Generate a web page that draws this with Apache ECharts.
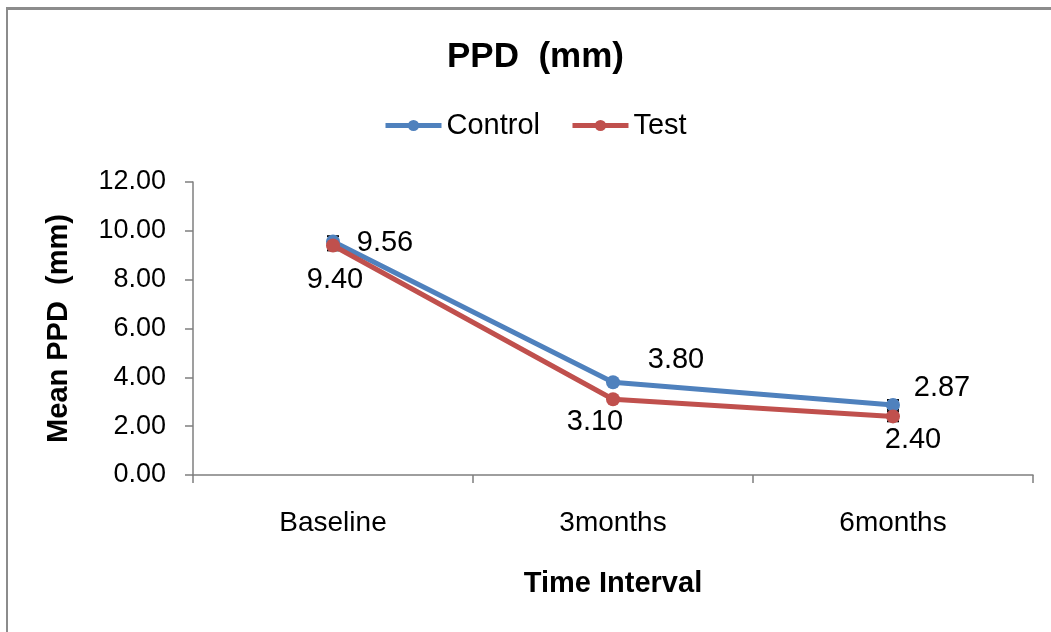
<!DOCTYPE html>
<html>
<head>
  <meta charset="utf-8">
  <title>PPD (mm)</title>
  <script src="https://cdn.jsdelivr.net/npm/echarts@6/dist/echarts.min.js"></script>
  <style>
    html, body { margin: 0; padding: 0; background: #fff; }
    #frame {
      position: absolute; left: 6px; top: 7px; width: 1060px; height: 640px;
      border-left: 2px solid #8c8c8c; border-top: 3px solid #8c8c8c;
    }
    #chart { width: 1051px; height: 632px; }
  </style>
</head>
<body>
  <div id="frame"></div>
  <div id="chart"></div>
  <script>
    // data
    const categories = ['Baseline', '3months', '6months'];
    const control = [9.56, 3.80, 2.87];
    const test = [9.40, 3.10, 2.40];
    // small SD caps visible round some points
    const controlErr = [0.22, 0, 0.2];
    const testErr = [0.2, 0, 0.2];
    const yTicks = [0, 2, 4, 6, 8, 10, 12];

    const font = '"Liberation Sans", Arial, sans-serif';
    const chart = echarts.init(document.getElementById('chart'));

    function errSeries(vals, errs) {
      return {
        type: 'custom',
        silent: true,
        z: 1,
        data: vals.map((v, i) => [i, v - errs[i], v + errs[i], errs[i]]),
        renderItem: (params, api) => {
          if (api.value(3) === 0) return null;
          const lo = api.coord([api.value(0), api.value(1)]);
          const hi = api.coord([api.value(0), api.value(2)]);
          const w = 6;
          const st = { stroke: '#000', lineWidth: 2 };
          return {
            type: 'group',
            children: [
              { type: 'line', shape: { x1: lo[0], y1: lo[1], x2: hi[0], y2: hi[1] }, style: st },
              { type: 'line', shape: { x1: lo[0] - w, y1: lo[1], x2: lo[0] + w, y2: lo[1] }, style: st },
              { type: 'line', shape: { x1: hi[0] - w, y1: hi[1], x2: hi[0] + w, y2: hi[1] }, style: st }
            ]
          };
        }
      };
    }

    const labelBase = { show: true, position: 'inside', color: '#000', fontSize: 29, fontFamily: font, formatter: p => p.value.toFixed(2) };

    chart.setOption({
      animation: false,
      title: {
        text: 'PPD  (mm)',
        left: 442,
        top: 35,
        textStyle: { fontFamily: font, fontSize: 35, fontWeight: 'bold', color: '#000' }
      },
      legend: {
        data: ['Control', 'Test'],
        top: 106,
        left: 378,
        itemWidth: 56,
        itemHeight: 14,
        itemGap: 30,
        lineStyle: { width: 5 },
        textStyle: { fontFamily: font, fontSize: 29, color: '#000' }
      },
      grid: { left: 193, right: 18, top: 182, bottom: 157 },
      xAxis: {
        type: 'category',
        data: categories,
        name: 'Time Interval',
        nameLocation: 'middle',
        nameGap: 94,
        nameTextStyle: { fontFamily: font, fontSize: 29, fontWeight: 'bold', color: '#000' },
        axisLine: { lineStyle: { color: '#7f7f7f', width: 1.5 } },
        axisTick: { show: true, inside: false, length: 8, lineStyle: { color: '#7f7f7f', width: 1.5 } },
        axisLabel: { fontFamily: font, fontSize: 28, color: '#000', margin: 34 },
        splitLine: { show: false }
      },
      yAxis: {
        type: 'value',
        min: yTicks[0],
        max: yTicks[yTicks.length - 1],
        interval: 2,
        name: 'Mean PPD  (mm)',
        nameLocation: 'middle',
        nameGap: 120,
        nameRotate: 90,
        nameTextStyle: { fontFamily: font, fontSize: 29, fontWeight: 'bold', color: '#000' },
        axisLine: { show: true, lineStyle: { color: '#7f7f7f', width: 1.5 } },
        axisTick: { show: true, length: 8, lineStyle: { color: '#7f7f7f', width: 1.5 } },
        axisLabel: { fontFamily: font, fontSize: 27, color: '#000', margin: 27, formatter: v => v.toFixed(2) },
        splitLine: { show: false }
      },
      series: [
        errSeries(control, controlErr),
        errSeries(test, testErr),
        {
          name: 'Control',
          type: 'line',
          z: 3,
          data: control.map((v, i) => ({
            value: v,
            label: { offset: [[52, 1], [63, -22], [49, -17]][i] }
          })),
          symbol: 'circle',
          symbolSize: 14,
          color: '#4f81bd',
          lineStyle: { width: 5, color: '#4f81bd' },
          label: labelBase
        },
        {
          name: 'Test',
          type: 'line',
          z: 4,
          data: test.map((v, i) => ({
            value: v,
            label: { offset: [[2, 35], [-18, 23], [20, 24]][i] }
          })),
          symbol: 'circle',
          symbolSize: 14,
          color: '#c0504d',
          lineStyle: { width: 5, color: '#c0504d' },
          label: labelBase
        }
      ]
    });
  </script>
</body>
</html>
